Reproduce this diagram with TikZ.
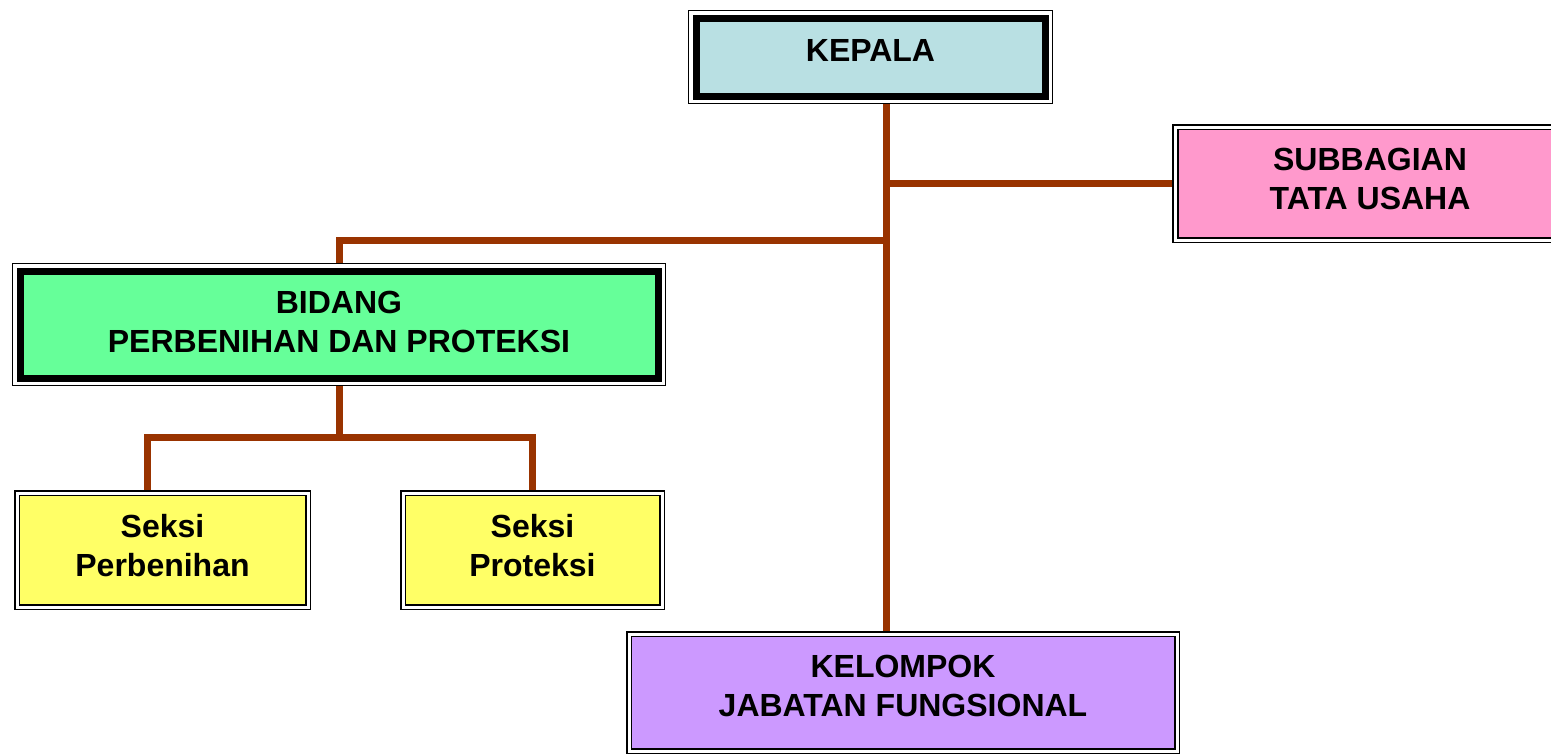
\documentclass[tikz,border=0pt]{standalone}
\usepackage{fontspec}
\setmainfont{Liberation Sans}

% layers: connectors at the bottom, white outer frames above them, boxes on top
\pgfdeclarelayer{conn}
\pgfdeclarelayer{frame}
\pgfsetlayers{conn,frame,main}

\definecolor{linkbrown}{HTML}{993300}
\definecolor{headfill}{HTML}{B9E0E3}
\definecolor{pinkfill}{HTML}{FF99CC}
\definecolor{greenfill}{HTML}{66FF99}
\definecolor{yellowfill}{HTML}{FFFF66}
\definecolor{violetfill}{HTML}{CC99FF}

\begin{document}
\begin{tikzpicture}[x=1pt,y=-1pt,
  box/.style={rectangle, align=center, inner sep=0pt, outer sep=0pt,
    font=\bfseries\fontsize{32}{39}\selectfont},
  thickbox/.style={box, draw=black, line width=7pt},
  thinbox/.style={box, draw=black, double=white, double distance=3pt, line width=1.6pt},
  frame/.style={draw=black, line width=1.6pt, fill=white},
  link/.style={draw=linkbrown, line width=7pt, line join=miter}]
\useasboundingbox (0,0) rectangle (1551,755);

% units
\node[thickbox, fill=headfill, minimum width=349pt, minimum height=78pt, text depth=14pt]
  (kepala) at (870.5,57) {KEPALA};
\node[thinbox, fill=pinkfill, minimum width=389pt, minimum height=113pt, text depth=10pt]
  (tu) at (1370,183.5) {SUBBAGIAN\\TATA USAHA};
\node[thickbox, fill=greenfill, minimum width=638pt, minimum height=107pt, text depth=5pt]
  (bidang) at (339,324.5) {BIDANG\\PERBENIHAN DAN PROTEKSI};
\node[thinbox, fill=yellowfill, minimum width=291pt, minimum height=114pt, text depth=9pt]
  (seksia) at (162.5,550) {Seksi\\Perbenihan};
\node[thinbox, fill=yellowfill, minimum width=259pt, minimum height=114pt, text depth=9pt]
  (seksib) at (532.5,550) {Seksi\\Proteksi};
\node[thinbox, fill=violetfill, minimum width=548pt, minimum height=117pt, text depth=13pt]
  (kelompok) at (903,692.5) {KELOMPOK\\JABATAN FUNGSIONAL};

% thin outer frames of the heavy boxes
\begin{pgfonlayer}{frame}
  \foreach \n in {kepala,bidang}
    \draw[frame] ([xshift=-7.5pt,yshift=7.5pt]\n.north west)
      rectangle ([xshift=7.5pt,yshift=-7.5pt]\n.south east);
\end{pgfonlayer}

% guide coordinates for the connector runs
\coordinate (tx) at (886,0);
\coordinate (by) at (0,240);
\coordinate (sy) at (0,437);
\coordinate (lx) at (147,0);

\begin{pgfonlayer}{conn}
  \draw[link] (kepala.south -| tx) -- (kelompok.north -| tx);
  \draw[link] (tx |- tu.west) -- (tu.west);
  \draw[link] (tx |- by) -| (bidang.north);
  \draw[link] (bidang.south) -- (bidang.south |- sy);
  \draw[link] (lx |- seksia.north) |- (seksib.north |- sy) -- (seksib.north);
\end{pgfonlayer}
\end{tikzpicture}
\end{document}
